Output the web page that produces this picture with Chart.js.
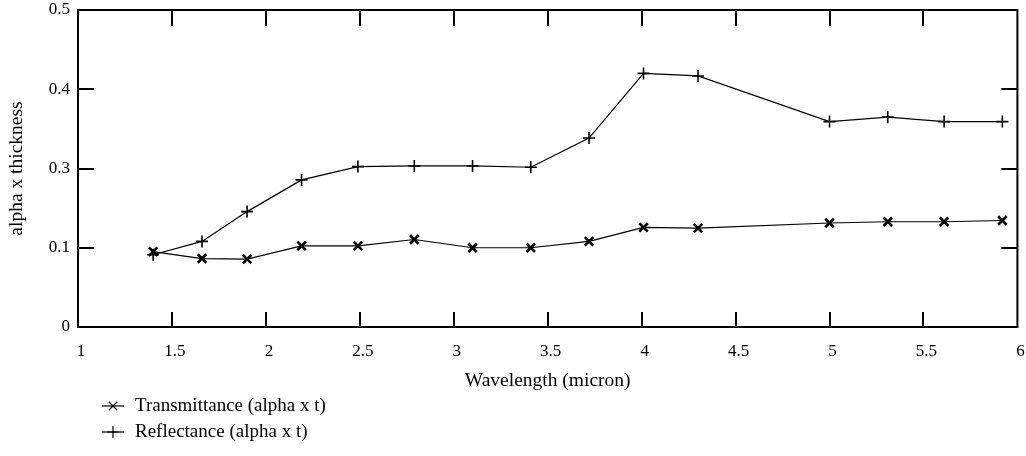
<!DOCTYPE html>
<html>
<head>
<meta charset="utf-8">
<script src="https://cdn.jsdelivr.net/npm/chart.js@4.4.1/dist/chart.umd.min.js"></script>
<style>
  html, body { margin: 0; padding: 0; background: #fff; }
  #wrap { width: 1026px; height: 456px; }
</style>
</head>
<body>
<div id="wrap"><canvas id="c" width="1026" height="456"></canvas></div>
<script>
// Wavelengths (micron) at which both series were measured
const wavelength = [1.4, 1.66, 1.9, 2.19, 2.49, 2.79, 3.1, 3.41, 3.72, 4.01, 4.3, 5.0, 5.31, 5.61, 5.92];
// alpha x thickness from transmittance
const transmittance = [0.119, 0.108, 0.107, 0.128, 0.128, 0.138, 0.125, 0.125, 0.135, 0.157, 0.156, 0.164, 0.166, 0.166, 0.168];
// alpha x thickness from reflectance
const reflectance = [0.114, 0.135, 0.182, 0.232, 0.253, 0.254, 0.254, 0.252, 0.298, 0.400, 0.396, 0.324, 0.331, 0.324, 0.324];

const seriesNames = ['Transmittance (alpha x t)', 'Reflectance (alpha x t)'];
const xTicks = [1, 1.5, 2, 2.5, 3, 3.5, 4, 4.5, 5, 5.5, 6];
const yTicks = [0, 0.125, 0.25, 0.375, 0.5];
const yTickLabels = ['0', '0.1', '0.3', '0.4', '0.5'];

const SERIF = '"Liberation Serif", "Times New Roman", serif';

const toPoints = (ys) => wavelength.map((x, i) => ({ x, y: ys[i] }));

// Frame, inward ticks and the legend block under the axis title
const framePlugin = {
  id: 'frame',
  afterDatasetsDraw(chart) {
    const { ctx, chartArea: a, scales } = chart;
    ctx.save();
    ctx.strokeStyle = '#000';
    ctx.lineWidth = 2;
    ctx.strokeRect(a.left, a.top, a.right - a.left, a.bottom - a.top);
    ctx.beginPath();
    xTicks.slice(1, -1).forEach(v => {
      const px = Math.round(scales.x.getPixelForValue(v));
      ctx.moveTo(px, a.bottom); ctx.lineTo(px, a.bottom - 15);
      ctx.moveTo(px, a.top); ctx.lineTo(px, a.top + 16);
    });
    yTicks.slice(1, -1).forEach(v => {
      const py = Math.round(scales.y.getPixelForValue(v));
      ctx.moveTo(a.left, py); ctx.lineTo(a.left + 16, py);
      ctx.moveTo(a.right, py); ctx.lineTo(a.right - 16, py);
    });
    ctx.stroke();

    // legend
    const rows = [406, 432];
    chart.data.datasets.forEach((ds, i) => {
      const y = rows[i];
      ctx.lineWidth = 1.2;
      ctx.beginPath();
      ctx.moveTo(102, y); ctx.lineTo(124, y);
      ctx.stroke();
      Chart.helpers.drawPoint(ctx, {
        pointStyle: ds.pointStyle,
        radius: ds.pointRadius,
        rotation: 0,
        borderWidth: ds.pointBorderWidth
      }, 113, y);
      ctx.fillStyle = '#000';
      ctx.font = '19px ' + SERIF;
      ctx.textBaseline = 'middle';
      ctx.textAlign = 'left';
      ctx.fillText(ds.label, 135, y);
    });
    ctx.restore();
  }
};

new Chart(document.getElementById('c'), {
  type: 'line',
  data: {
    datasets: [
      {
        label: seriesNames[0],
        data: toPoints(transmittance),
        borderColor: '#000',
        backgroundColor: '#000',
        borderWidth: 1.2,
        pointStyle: 'crossRot',
        pointRadius: 6,
        pointBorderWidth: 2.6,
        pointBorderColor: '#000',
        tension: 0
      },
      {
        label: seriesNames[1],
        data: toPoints(reflectance),
        borderColor: '#000',
        backgroundColor: '#000',
        borderWidth: 1.2,
        pointStyle: 'cross',
        pointRadius: 6,
        pointBorderWidth: 1.6,
        pointBorderColor: '#000',
        tension: 0
      }
    ]
  },
  options: {
    responsive: false,
    animation: false,
    events: [],
    layout: { padding: { left: 0, top: 10, right: 5, bottom: 63 } },
    plugins: { legend: { display: false }, tooltip: { enabled: false } },
    scales: {
      x: {
        type: 'linear',
        min: 1, max: 6,
        afterBuildTicks: (s) => { s.ticks = xTicks.map(v => ({ value: v })); },
        afterFit: (s) => { s.height = 66; s.paddingLeft = 0; s.paddingRight = 0; },
        grid: { display: false, drawTicks: false },
        border: { display: false },
        ticks: {
          color: '#000',
          font: { family: SERIF, size: 17 },
          padding: 14,
          labelOffset: 3,
          maxRotation: 0,
          autoSkip: false,
          callback: (v) => String(v)
        },
        title: {
          display: true,
          text: 'Wavelength (micron)',
          color: '#000',
          font: { family: SERIF, size: 19.5 },
          padding: { top: 4, bottom: 0 }
        }
      },
      y: {
        type: 'linear',
        min: 0, max: 0.5,
        afterBuildTicks: (s) => { s.ticks = yTicks.map(v => ({ value: v })); },
        afterFit: (s) => { s.width = 78; s.paddingTop = 0; s.paddingBottom = 0; },
        grid: { display: false, drawTicks: false },
        border: { display: false },
        ticks: {
          color: '#000',
          font: { family: SERIF, size: 17 },
          padding: 8,
          autoSkip: false,
          callback: (v, i) => yTickLabels[i]
        },
        title: {
          display: true,
          text: 'alpha x thickness',
          color: '#000',
          font: { family: SERIF, size: 19.5 },
          padding: { top: 5, bottom: 0 }
        }
      }
    }
  },
  plugins: [framePlugin]
});
</script>
</body>
</html>
